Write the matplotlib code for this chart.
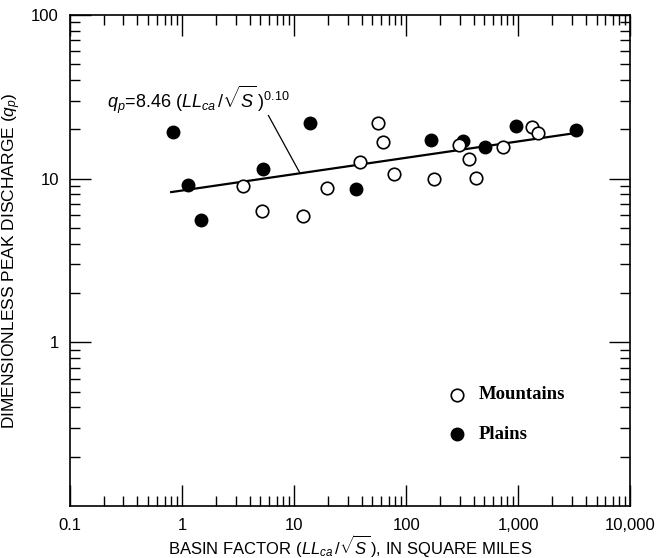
import numpy as np
import matplotlib
matplotlib.use('Agg')
import matplotlib.pyplot as plt
from matplotlib.ticker import LogLocator, NullFormatter, FixedLocator, FixedFormatter

plt.rcParams['font.family'] = ['Liberation Sans', 'DejaVu Sans']
plt.rcParams['mathtext.fontset'] = 'custom'
plt.rcParams['mathtext.rm'] = 'Liberation Sans'
plt.rcParams['mathtext.it'] = 'Liberation Sans:italic'
plt.rcParams['mathtext.bf'] = 'Liberation Sans:bold'

# mountain sites (open circles)
mtn_x = [3.49, 55.5, 61.7, 38.4, 78.2, 19.5, 177, 296, 362, 421, 731, 1327, 1489, 5.14, 11.9]
mtn_y = [9.06, 21.8, 16.7, 12.6, 10.6, 8.77, 10.0, 16.0, 13.1, 10.1, 15.7, 20.8, 19.0, 6.35, 5.89]

# plains sites (filled circles)
pln_x = [0.835, 1.12, 13.9, 5.28, 35.7, 166, 321, 506, 960, 3250, 1.48]
pln_y = [19.2, 9.1, 22.0, 11.5, 8.7, 17.1, 17.0, 15.7, 21.0, 19.9, 5.57]

# regression qp = 8.46 * x^0.10
coef = 8.46
expo = 0.10
fit_range = [0.8, 3250]

x_ticks = [0.1, 1, 10, 100, 1000, 10000]
x_labels = ['0.1', '1', '10', '100', '1,000', '10,000']
y_ticks = [1, 10, 100]
y_labels = ['1', '10', '100']

# equation label and where its leader meets the line
eq_pos = (0.214, 30.5)
leader_x = [5.9, 11.3]
leader_top = 24.3

fig = plt.figure(figsize=(6.63, 5.58), dpi=100)
ax = fig.add_axes([0.1056, 0.0932, 0.845, 0.88])
ax.set_xscale('log')
ax.set_yscale('log')
ax.set_xlim(0.1, 10000)
ax.set_ylim(0.1, 100)

xf = np.logspace(np.log10(fit_range[0]), np.log10(fit_range[1]), 50)
ax.plot(xf, coef * xf ** expo, color='black', lw=1.6, zorder=2)

ax.plot(pln_x, pln_y, 'o', ms=9, mfc='black', mec='black', ls='none', zorder=3)
ax.plot(mtn_x, mtn_y, 'o', ms=9, mfc='white', mec='black', mew=1.2, ls='none', zorder=4)

ax.text(eq_pos[0], eq_pos[1], r'$q_p$=8.46 ($LL_{ca}\,/\sqrt{S}\,$)$^{0.10}$',
        fontsize=13, ha='left', va='center')
ax.plot(leader_x, [leader_top, coef * leader_x[1] ** expo], color='black', lw=0.9)

# legend drawn by hand like the original
ax.plot([285], [0.477], 'o', ms=9, mfc='white', mec='black', mew=1.2)
ax.plot([285], [0.275], 'o', ms=9, mfc='black', mec='black')
ax.text(440, 0.477, 'Mountains', family='Liberation Serif', weight='bold',
        fontsize=13.5, va='center')
ax.text(440, 0.275, 'Plains', family='Liberation Serif', weight='bold',
        fontsize=13.5, va='center')

ax.xaxis.set_major_locator(FixedLocator(x_ticks))
ax.xaxis.set_major_formatter(FixedFormatter(x_labels))
ax.xaxis.set_minor_locator(LogLocator(base=10, subs=np.arange(2, 10)))
ax.xaxis.set_minor_formatter(NullFormatter())
ax.yaxis.set_major_locator(FixedLocator(y_ticks))
ax.yaxis.set_major_formatter(FixedFormatter(y_labels))
ax.yaxis.set_minor_locator(LogLocator(base=10, subs=np.arange(2, 10)))
ax.yaxis.set_minor_formatter(NullFormatter())

ax.tick_params(which='both', direction='in', top=True, right=True, width=1)
ax.tick_params(which='major', length=15, labelsize=12)
ax.tick_params(axis='x', which='major', pad=9)
ax.tick_params(axis='y', which='major', pad=8)
ax.tick_params(which='minor', length=7)
for s in ax.spines.values():
    s.set_linewidth(1.2)

# x label placed by its baseline so the subscript stays inside the figure
fig.text(0.1056 + 0.845 / 2, 0.008,
         r'BASIN FACTOR ($LL_{ca}\,/\sqrt{S}\,$), IN SQUARE MILES',
         fontsize=12, ha='center', va='baseline')
ax.set_ylabel(r'DIMENSIONLESS PEAK DISCHARGE ($q_p$)', fontsize=12.5, labelpad=6)

fig.savefig('out.png', dpi=100)
